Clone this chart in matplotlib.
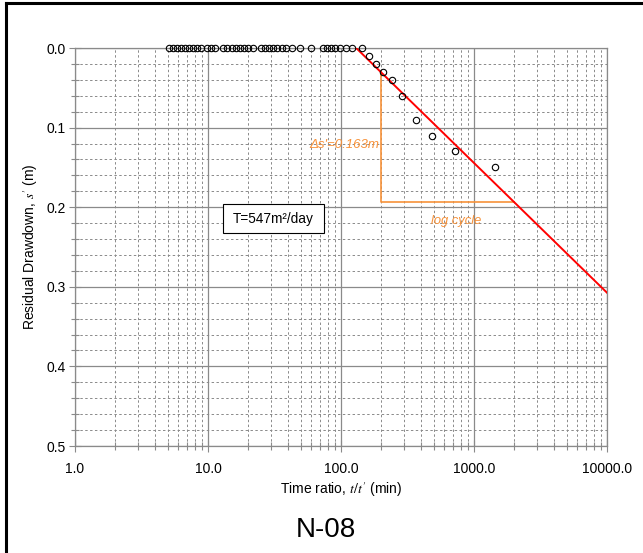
import numpy as np
import matplotlib
matplotlib.use("Agg")
from matplotlib import pyplot as plt
from matplotlib import patches
from matplotlib.lines import Line2D
from matplotlib.ticker import FixedLocator, FuncFormatter, MultipleLocator

plt.rcParams['font.family'] = ['Liberation Sans', 'DejaVu Sans']
plt.rcParams['mathtext.fontset'] = 'stix'

# recovery data: time ratio t/t' and residual drawdown s'
time_ratio = [5.12, 5.48, 5.88, 6.30, 6.75, 7.23, 7.75, 8.31, 8.90, 9.78,
              10.5, 11.3, 13.0, 14.0, 15.1, 16.2, 17.4, 18.8, 20.1, 21.7,
              24.9, 26.8, 28.9, 31.0, 33.2, 35.8, 38.4, 42.6, 49.2, 59.2,
              72.8, 78.0, 83.7, 90.2, 98.3, 109, 122, 144,
              162, 182, 206, 240, 289, 365, 481, 719, 1439]
drawdown = [0.0] * 38 + [0.01, 0.02, 0.03, 0.04, 0.06, 0.09, 0.11, 0.13, 0.15]

# straight line fit
slope = 0.163          # m per log cycle
x_zero = 130.0         # t/t' where s' = 0
line_x = [x_zero, 10000.0]
cycle_x = [200.0, 2000.0]

def fit(x):
    return slope * np.log10(np.asarray(x) / x_zero)

fig = plt.figure(figsize=(6.43, 5.53), dpi=100)
ax = fig.add_axes([75 / 643, 1 - 446 / 553, 532 / 643, 398 / 553])

grid_col = '#8a8a8a'
ax.set_xscale('log')
ax.set_xlim(1, 10000)
ax.set_ylim(0.5, 0.0)

ax.xaxis.set_major_locator(FixedLocator([1, 10, 100, 1000, 10000]))
ax.xaxis.set_minor_locator(FixedLocator([m * 10 ** d for d in range(4) for m in range(2, 10)]))
ax.xaxis.set_major_formatter(FuncFormatter(lambda v, p: f"{v:.1f}"))
ax.xaxis.set_minor_formatter(FuncFormatter(lambda v, p: ""))
ax.yaxis.set_major_locator(MultipleLocator(0.1))
ax.yaxis.set_minor_locator(MultipleLocator(0.02))
ax.yaxis.set_major_formatter(FuncFormatter(lambda v, p: f"{v:.1f}"))

ax.grid(which='major', color=grid_col, lw=0.9, ls='-')
ax.grid(which='minor', color=grid_col, lw=0.7, ls=(0, (2.5, 2.5)))
ax.set_axisbelow(True)
for sp in ax.spines.values():
    sp.set_color(grid_col)
    sp.set_linewidth(0.9)
ax.tick_params(which='major', direction='inout', length=9, width=0.8, color=grid_col,
               labelsize=10, pad=2)
ax.tick_params(which='minor', direction='inout', length=6, width=0.8, color=grid_col)
ax.tick_params(axis='x', which='major', pad=7)

ax.plot(line_x, fit(line_x), color='red', lw=1.4, zorder=3)

orange = '#f7923a'
ax.plot([cycle_x[0], cycle_x[0], cycle_x[1]],
        [fit(cycle_x[0]), fit(cycle_x[1]), fit(cycle_x[1])],
        color=orange, lw=1.2, zorder=2)
ax.text(194, 0.122, "\u0394s'=0.163m", color=orange, style='italic', fontsize=9.5,
        ha='right', va='center')
ax.text(732, 0.217, "log cycle", color=orange, style='italic', fontsize=9.3,
        ha='center', va='center')

ax.plot(time_ratio, drawdown, ls='none', marker='o', ms=4.6, mfc='none',
        mec='black', mew=0.8, zorder=4, clip_on=False)

box = patches.Rectangle((0.2776, 0.535), 0.1904, 0.073, transform=ax.transAxes,
                        facecolor='white', edgecolor='black', lw=0.8, zorder=5)
ax.add_patch(box)
ax.text(0.3728, 0.5715, "T=547m\u00b2/day", transform=ax.transAxes, fontsize=9.8,
        ha='center', va='center', zorder=6)

ax.set_xlabel("Time ratio, $t/t'$ (min)", fontsize=10, labelpad=3)
ax.set_ylabel("Residual Drawdown, $s'$ (m)", fontsize=10, labelpad=5)

fig.text(326 / 643, 1 - 530 / 553, "N-08", fontsize=20, ha='center', va='center')

# outer frame (left and top edges)
fig.add_artist(Line2D([5.5 / 643, 5.5 / 643], [0, 1 - 2.5 / 553], color='black', lw=2.2,
                      transform=fig.transFigure))
fig.add_artist(Line2D([5.5 / 643, 1], [1 - 2.5 / 553, 1 - 2.5 / 553], color='black', lw=2.2,
                      transform=fig.transFigure))

fig.savefig("out.png", dpi=100)
